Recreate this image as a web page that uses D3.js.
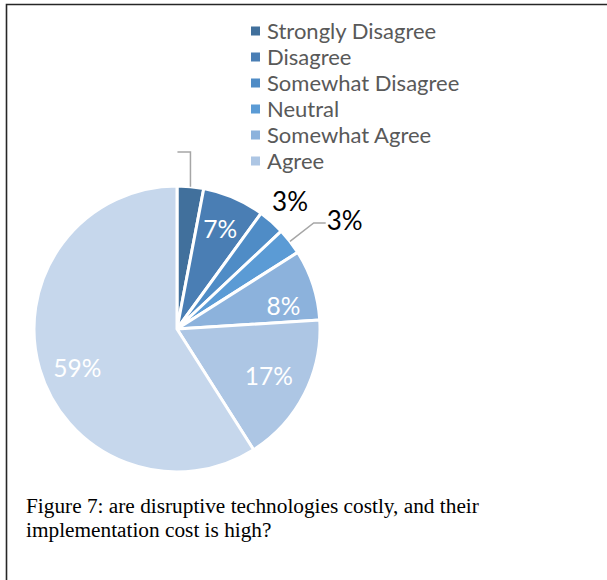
<!DOCTYPE html>
<html>
<head>
<meta charset="utf-8">
<script src="https://cdn.jsdelivr.net/npm/d3@7"></script>
<style>
  html, body { margin: 0; padding: 0; background: #fff; }
  svg { display: block; }
</style>
</head>
<body>
<svg id="chart" width="607" height="580"></svg>
<script>
// Survey answers, in drawing order (clockwise from 12 o'clock)
const categories = ["Strongly Disagree", "Disagree", "Somewhat Disagree", "Neutral", "Somewhat Agree", "Agree", ""];
const values = [3, 7, 3, 3, 8, 17, 59];
const labels = ["", "7%", "3%", "3%", "8%", "17%", "59%"];
const colors = ["#41709c", "#4a7eb4", "#4f8cc6", "#5b9bd5", "#8cb2dc", "#adc6e4", "#c6d7ec"];
const captionLines = [
  "Figure 7: are disruptive technologies costly, and their",
  "implementation cost is high?"
];

const svg = d3.select("#chart");
const W = 607, H = 580;

// Frame lines (top and left)
svg.append("path")
  .attr("d", `M6.5,${H} V4.5 H${W}`)
  .attr("fill", "none")
  .attr("stroke", "#262626")
  .attr("stroke-width", 1.6);

const cx = 177, cy = 329, R = 143;
const g = svg.append("g").attr("transform", `translate(${cx},${cy})`);

const pie = d3.pie().sort(null).value(d => d)(values);
const arc = d3.arc().innerRadius(0).outerRadius(R);

g.selectAll("path.slice")
  .data(pie)
  .join("path")
  .attr("class", "slice")
  .attr("d", arc)
  .attr("fill", (d, i) => colors[i])
  .attr("stroke", "#fff")
  .attr("stroke-width", 3)
  .attr("stroke-linejoin", "round");

// Point at angle a (radians, clockwise from 12 o'clock), radius r
const polar = (a, r) => [Math.sin(a) * r, -Math.cos(a) * r];
const mid = d => (d.startAngle + d.endAngle) / 2;

// Label placement: inside labels sit on a ring; outside ones may carry a leader line
const place = [
  { mode: "leader", elbowY: -177, tail: -13 },
  { mode: "in", r: 109, nudge: 0 },
  { mode: "out", r: 171, nudge: 0 },
  { mode: "leader", elbowR: 173, tail: 12 },
  { mode: "in", r: 109, nudge: 0.1 },
  { mode: "in", r: 103, nudge: 0 },
  { mode: "in", r: 107, nudge: -0.09 }
];

const labelFont = "Lato, 'Open Sans', sans-serif";
const inSize = 24.5, outSize = 26;

pie.forEach((d, i) => {
  const p = place[i];
  const a = mid(d);
  if (p.mode === "in" || p.mode === "out") {
    const [x, y] = polar(a + p.nudge, p.r);
    g.append("text")
      .attr("x", x).attr("y", y)
      .attr("text-anchor", "middle")
      .attr("dominant-baseline", "central")
      .attr("font-family", labelFont)
      .attr("font-size", p.mode === "in" ? inSize : outSize)
      .attr("fill", p.mode === "in" ? "#ffffff" : "#000000")
      .text(labels[i]);
  } else {
    const start = polar(a, R);
    let elbow;
    if (p.elbowY !== undefined) elbow = [start[0], p.elbowY];
    else elbow = polar(a, p.elbowR);
    const end = [elbow[0] + p.tail, elbow[1]];
    g.append("path")
      .attr("d", d3.line()([start, elbow, end]))
      .attr("fill", "none")
      .attr("stroke", "#a6a6a6")
      .attr("stroke-width", 1.5);
    g.append("text")
      .attr("x", end[0] + (p.tail > 0 ? 1 : -1))
      .attr("y", end[1] - 3)
      .attr("text-anchor", p.tail > 0 ? "start" : "end")
      .attr("dominant-baseline", "central")
      .attr("font-family", labelFont)
      .attr("font-size", outSize)
      .attr("fill", "#000")
      .text(labels[i]);
  }
});

// Legend
const legendItems = categories.map((c, i) => ({ name: c, color: colors[i] })).filter(d => d.name);
const ly = d3.scalePoint().domain(legendItems.map(d => d.name)).range([31, 161]);
const legend = svg.append("g");
const rows = legend.selectAll("g").data(legendItems).join("g")
  .attr("transform", d => `translate(0,${ly(d.name)})`);
rows.append("rect")
  .attr("x", 251).attr("y", -4.5)
  .attr("width", 9).attr("height", 9)
  .attr("fill", d => d.color);
rows.append("text")
  .attr("x", 267).attr("y", -1)
  .attr("dominant-baseline", "central")
  .attr("font-family", labelFont)
  .attr("font-size", 22)
  .attr("fill", "#595959")
  .text(d => d.name);

// Caption
svg.append("g").selectAll("text").data(captionLines).join("text")
  .attr("x", 26)
  .attr("y", (d, i) => 513 + i * 24)
  .attr("font-family", "'Liberation Serif', 'Times New Roman', serif")
  .attr("font-size", 21.3)
  .attr("fill", "#000")
  .text(d => d);
</script>
</body>
</html>
